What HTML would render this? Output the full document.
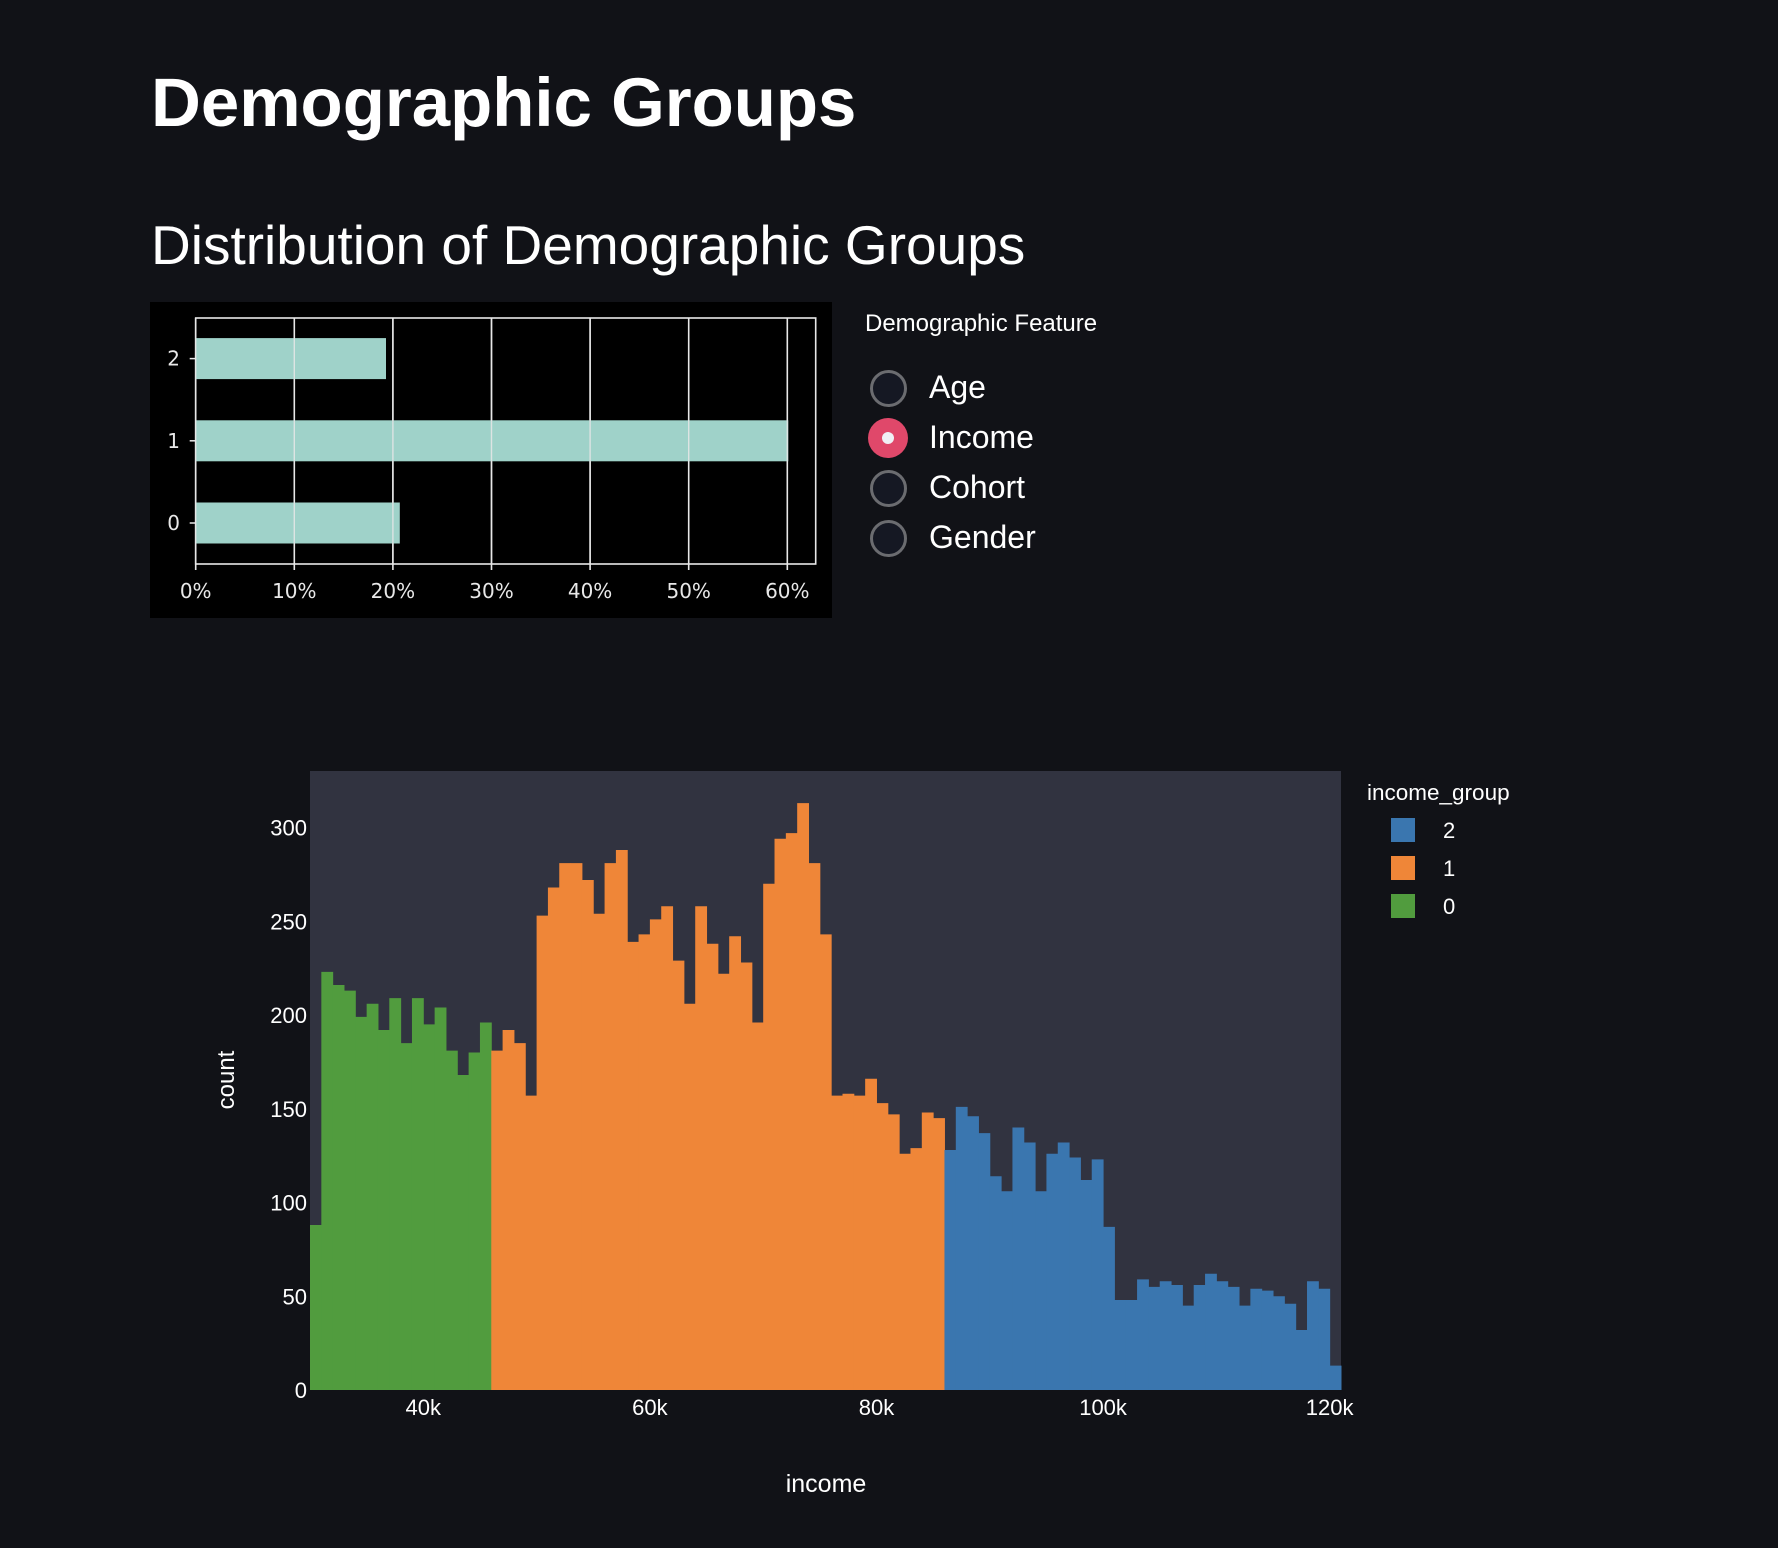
<!DOCTYPE html>
<html><head><meta charset="utf-8"><style>
body{margin:0;width:1778px;height:1548px;background:#111217;overflow:hidden;font-family:"Liberation Sans","DejaVu Sans",sans-serif;color:#fff}
.abs{position:absolute;white-space:nowrap}
</style></head><body>
<div class="abs" style="left:151px;top:62px;font-size:69px;font-weight:bold;line-height:82px">Demographic Groups</div>
<div class="abs" style="left:151px;top:212px;font-size:55px;line-height:66px">Distribution of Demographic Groups</div>

<svg class="abs" style="left:0;top:0" width="1778" height="1548">
<rect x="150" y="302" width="682" height="316" fill="#000"/>
<g id="bargrid"></g>
<g id="bars"></g>
<g id="hist"></g>
</svg>

<div class="abs" style="left:865px;top:310px;font-size:24px;line-height:28px">Demographic Feature</div>
<div id="radios"></div>

<div class="abs" style="left:1367px;top:780px;font-size:22.5px;line-height:26px">income_group</div>
<div id="legend"></div>

<script>
const NS="http://www.w3.org/2000/svg";
function mk(tag,attrs,parent,text){const e=document.createElementNS(NS,tag);for(const k in attrs)e.setAttribute(k,attrs[k]);if(text!==undefined)e.textContent=text;parent.appendChild(e);return e;}

// ---- Bar chart data ----
const barCategories=["0","1","2"];
const barValues=[20.7,60.1,19.3];
const barTicks=[0,10,20,30,40,50,60];
const bx=p=>195.7+p*9.86;
const by=c=>523-c*82.2;
const gg=document.getElementById('bargrid');
barTicks.forEach(t=>{
  const l=mk('line',{x1:bx(t),x2:bx(t),y1:318,y2:570,stroke:'#e8e8e8','stroke-width':1.6},gg);
  
  
  const tx=mk('text',{x:bx(t),y:598,'text-anchor':'middle',fill:'#e8e8e8','font-size':20,'font-family':'DejaVu Sans, sans-serif'},gg,t+'%');
  
  
});
const frame=mk('rect',{x:195.7,y:318,width:620,height:246,fill:'none',stroke:'#e8e8e8','stroke-width':1.6},gg);


const bg=document.getElementById('bars');
barCategories.forEach((c,i)=>{
  const r=mk('rect',{x:bx(0),y:by(i)-20.5,width:bx(barValues[i])-bx(0),height:41,fill:'#9fd2c9'},bg);
  
  
  const tk=mk('line',{x1:bx(0)-6,x2:bx(0),y1:by(i),y2:by(i),stroke:'#e8e8e8','stroke-width':1.5},bg);
  
  
  const t=mk('text',{x:180,y:by(i)+7,'text-anchor':'end',fill:'#e8e8e8','font-size':20,'font-family':'DejaVu Sans, sans-serif'},bg,c);
  
  
});
barTicks.forEach(t=>{
  const l=mk('line',{x1:bx(t),x2:bx(t),y1:318,y2:564,stroke:'#e8e8e8','stroke-width':1.4,'stroke-opacity':0.85},bg);
  
  
});

// ---- Histogram data ----
const binStart=30000, binWidth=1000;
const counts0=[88,223,216,213,199,206,192,209,185,209,195,204,181,168,180,196];
const counts1=[181,192,185,157,253,268,281,281,272,254,281,288,239,243,251,258,229,206,258,238,222,242,228,196,270,294,297,313,281,243,157,158,157,166,153,147,126,129,148,145];
const counts2=[128,151,146,137,114,106,140,132,106,126,132,124,112,123,87,48,48,59,55,58,56,45,56,62,58,55,45,54,53,50,46,32,58,54,13];
const yTicks=[0,50,100,150,200,250,300];
const xTicks=[40000,60000,80000,100000,120000];
const hx=v=>310+(v-30000)*(1031/91000);
const hy=c=>1390-c*1.875;
const hg=document.getElementById('hist');
const pb=mk('rect',{x:310,y:771,width:1031,height:619,fill:'#313340'},hg);


const groups=[{c:counts0,col:'#519c3e',name:'0'},{c:counts1,col:'#ef8638',name:'1'},{c:counts2,col:'#3a76af',name:'2'}];
let idx=0;
groups.forEach(g=>{
  g.c.forEach(v=>{
    const x0=hx(binStart+idx*binWidth), x1=hx(binStart+(idx+1)*binWidth);
    const r=mk('rect',{x:x0,y:hy(v),width:x1-x0+0.5,height:hy(0)-hy(v),fill:g.col},hg);
    
    
    idx++;
  });
});
yTicks.forEach(t=>{
  const tx=mk('text',{x:307,y:hy(t)+8,'text-anchor':'end',fill:'#fff','font-size':22},hg,String(t));
  
  
});
xTicks.forEach(t=>{
  const tx=mk('text',{x:hx(t),y:1415,'text-anchor':'middle',fill:'#fff','font-size':22},hg,(t/1000)+'k');
  
  
});
const yt=mk('text',{x:0,y:0,'text-anchor':'middle',fill:'#fff','font-size':24,transform:'translate(234,1080) rotate(-90)'},hg,'count');


const xt=mk('text',{x:826,y:1492,'text-anchor':'middle',fill:'#fff','font-size':25},hg,'income');



// ---- Radios ----
const radioLabels=["Age","Income","Cohort","Gender"];
const rc=document.getElementById('radios');
radioLabels.forEach((l,i)=>{
  const cy=388+i*50;
  const sel=i===1;
  const d=document.createElement('div');
  d.className='abs';
  
  
  d.style.cssText=`left:868px;top:${cy-20}px;height:40px;`;
  d.innerHTML=`<div style="position:absolute;left:0;top:0;width:${sel?40:37}px;height:${sel?40:37}px;box-sizing:border-box;border-radius:50%;${sel?'background:#e0486a;':'border:3px solid #6b6c70;background:#151823;'}"></div>`+
    (sel?`<div style="position:absolute;left:14px;top:14px;width:12px;height:12px;border-radius:50%;background:#f0f0f5"></div>`:'')+
    `<div style="position:absolute;left:61px;top:-3px;font-size:32px;line-height:44px;white-space:nowrap">${l}</div>`;
  if(!sel){d.firstChild.style.left='1.5px';d.firstChild.style.top='1.5px';}
  rc.appendChild(d);
});

// ---- Legend ----
const legendNames=["2","1","0"];
const legendColors=['#3a76af','#ef8638','#519c3e'];
const lg=document.getElementById('legend');
legendNames.forEach((n,i)=>{
  const cy=830+i*38;
  const d=document.createElement('div');
  d.className='abs';
  
  
  d.style.cssText=`left:1391px;top:${cy-12}px;height:24px;`;
  d.innerHTML=`<div style="position:absolute;left:0;top:0;width:24px;height:24px;background:${legendColors[i]}"></div><div style="position:absolute;left:52px;top:0px;font-size:22px;line-height:26px">${n}</div>`;
  lg.appendChild(d);
});
</script>
</body></html>
